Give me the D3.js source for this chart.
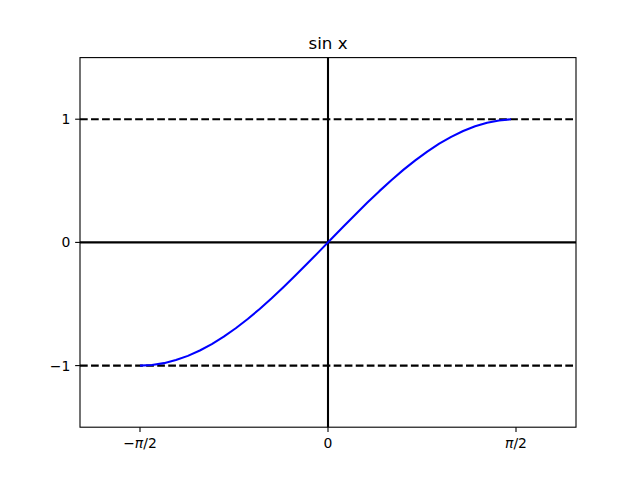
<!DOCTYPE html>
<html><head><meta charset="utf-8">
<script src="https://cdn.jsdelivr.net/npm/d3@7"></script>
<style>body{margin:0;background:#fff}text{font-family:"DejaVu Sans",sans-serif}</style>
</head><body>
<svg id="c" width="640" height="480"></svg>
<script>
// x = -pi/2 + 0.1*i, i = 0..31 (sampled points of the curve)
const xValues = [-1.5708,-1.4708,-1.3708,-1.2708,-1.1708,-1.0708,-0.9708,-0.8708,-0.7708,-0.6708,-0.5708,-0.4708,-0.3708,-0.2708,-0.1708,-0.0708,0.0292,0.1292,0.2292,0.3292,0.4292,0.5292,0.6292,0.7292,0.8292,0.9292,1.0292,1.1292,1.2292,1.3292,1.4292,1.5292];
const yValues = [-1.0,-0.99500,-0.98007,-0.95534,-0.92106,-0.87758,-0.82534,-0.76484,-0.69671,-0.62161,-0.54030,-0.45360,-0.36236,-0.26750,-0.16997,-0.07074,0.02920,0.12884,0.22720,0.32329,0.41615,0.50485,0.58850,0.66628,0.73739,0.80114,0.85689,0.90407,0.94222,0.97096,0.98999,0.99914];
const xTicks = [-Math.PI/2, 0, Math.PI/2];
const xTickLabels = [["−", "π", "/2"], ["", "", "0"], ["", "π", "/2"]];
const yTicks = [-1, 0, 1];
const yTickLabels = ["−1", "0", "1"];
const refLines = [-1, 1];
const title = "sin x";
const xLim = [-2.0721, 2.0721];
const yLim = [-1.5, 1.5];

const L = 80, R = 576, T = 57.6, B = 427.2;
const svg = d3.select("#c");
const x = d3.scaleLinear().domain(xLim).range([L, R]);
const y = d3.scaleLinear().domain(yLim).range([B, T]);

// dashed reference lines
svg.selectAll("line.ref").data(refLines).join("line")
  .attr("x1", L).attr("x2", R).attr("y1", d => y(d)).attr("y2", d => y(d))
  .attr("stroke", "#000").attr("stroke-width", 2.08).attr("stroke-dasharray", "7.7,3.33");
// zero axes lines
svg.append("line").attr("x1", L).attr("x2", R).attr("y1", y(0)).attr("y2", y(0))
  .attr("stroke", "#000").attr("stroke-width", 2.08);
svg.append("line").attr("x1", x(0)).attr("x2", x(0)).attr("y1", T).attr("y2", B)
  .attr("stroke", "#000").attr("stroke-width", 2.08);

// curve
const pts = xValues.map((v, i) => [v, yValues[i]]);
svg.append("path").datum(pts)
  .attr("d", d3.line().x(d => x(d[0])).y(d => y(d[1])))
  .attr("fill", "none").attr("stroke", "#0000ff").attr("stroke-width", 2.08)
  .attr("stroke-linejoin", "round").attr("stroke-linecap", "butt");

// spines
svg.append("rect").attr("x", L).attr("y", T).attr("width", R - L).attr("height", B - T)
  .attr("fill", "none").attr("stroke", "#000").attr("stroke-width", 1.1);

// x ticks
const xg = svg.append("g");
xTicks.forEach((t, i) => {
  xg.append("line").attr("x1", x(t)).attr("x2", x(t)).attr("y1", B).attr("y2", B + 4.86)
    .attr("stroke", "#000").attr("stroke-width", 1.1);
  const tx = xg.append("text").attr("x", x(t)).attr("y", B + 9.7 + 11)
    .attr("text-anchor", "middle").attr("font-size", "13.9px").attr("fill", "#000");
  const [a, p, b] = xTickLabels[i];
  if (a) tx.append("tspan").text(a);
  if (p) tx.append("tspan").attr("font-style", "italic").text(p);
  tx.append("tspan").text(b);
});
// y ticks
yTicks.forEach((t, i) => {
  svg.append("line").attr("x1", L - 4.86).attr("x2", L).attr("y1", y(t)).attr("y2", y(t))
    .attr("stroke", "#000").attr("stroke-width", 1.1);
  svg.append("text").attr("x", L - 9.7).attr("y", y(t)).attr("dy", "0.36em")
    .attr("text-anchor", "end").attr("font-size", "13.9px").attr("fill", "#000").text(yTickLabels[i]);
});

// title
svg.append("text").attr("x", (L + R) / 2).attr("y", T - 8.3)
  .attr("text-anchor", "middle").attr("font-size", "16.7px").attr("fill", "#000").text(title);
</script>
</body></html>
